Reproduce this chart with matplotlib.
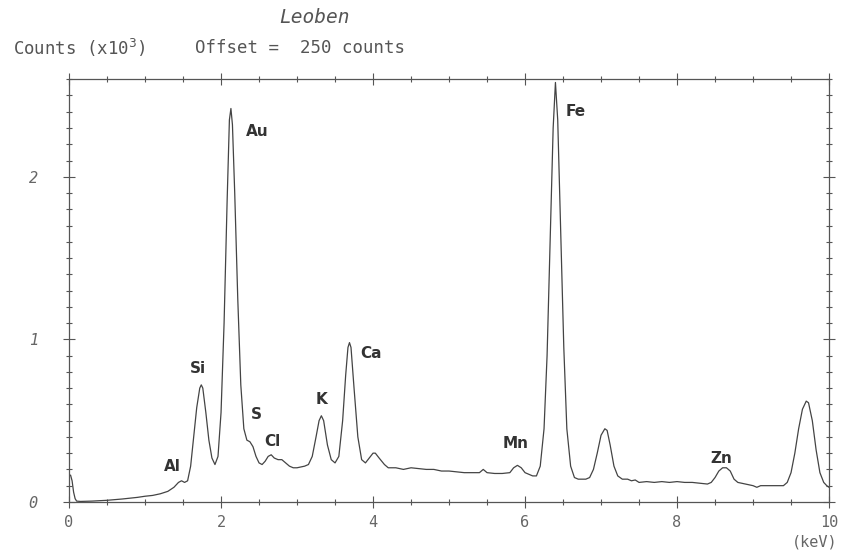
import matplotlib
matplotlib.use("Agg")
import matplotlib.pyplot as plt
from matplotlib.ticker import MultipleLocator

# spectrum: energy (keV) and counts (x10^3)
energy = [
    0.00, 0.02, 0.04, 0.06, 0.08, 0.10, 0.15, 0.30, 0.50, 0.70, 0.90, 1.00,
    1.10, 1.20, 1.30, 1.38, 1.44, 1.48, 1.52, 1.56, 1.60, 1.64, 1.68, 1.72,
    1.74, 1.76, 1.80, 1.84, 1.88, 1.92, 1.96, 2.00, 2.04, 2.08, 2.11, 2.13,
    2.15, 2.18, 2.22, 2.26, 2.30, 2.34, 2.38, 2.42, 2.46, 2.50, 2.54, 2.58,
    2.62, 2.66, 2.70, 2.75, 2.80, 2.85, 2.90, 2.95, 3.00, 3.05, 3.10, 3.15,
    3.20, 3.25, 3.29, 3.32, 3.35, 3.40, 3.45, 3.50, 3.55, 3.60, 3.64, 3.67,
    3.69, 3.71, 3.75, 3.80, 3.85, 3.90, 3.95, 4.00, 4.03, 4.08, 4.15, 4.20,
    4.30, 4.40, 4.50, 4.60, 4.70, 4.80, 4.90, 5.00, 5.10, 5.20, 5.30, 5.40,
    5.45, 5.50, 5.60, 5.70, 5.80, 5.85, 5.90, 5.95, 6.00, 6.10, 6.15, 6.20,
    6.25, 6.29, 6.33, 6.37, 6.40, 6.43, 6.47, 6.51, 6.55, 6.60, 6.65, 6.70,
    6.80, 6.85, 6.90, 6.95, 7.00, 7.05, 7.08, 7.12, 7.17, 7.22, 7.28, 7.35,
    7.40, 7.45, 7.50, 7.60, 7.70, 7.80, 7.90, 8.00, 8.10, 8.20, 8.30, 8.40,
    8.45, 8.50, 8.55, 8.60, 8.65, 8.70, 8.75, 8.80, 8.90, 9.00, 9.05, 9.10,
    9.20, 9.30, 9.40, 9.45, 9.50, 9.55, 9.60, 9.65, 9.70, 9.73, 9.78, 9.83,
    9.88, 9.93, 9.97, 10.00,
]
counts = [
    0.160, 0.165, 0.130, 0.060, 0.020, 0.005, 0.003, 0.005, 0.010, 0.018, 0.028, 0.035,
    0.040, 0.050, 0.065, 0.090, 0.120, 0.130, 0.120, 0.130, 0.220, 0.400, 0.580, 0.700,
    0.720, 0.700, 0.550, 0.380, 0.270, 0.230, 0.280, 0.550, 1.100, 1.850, 2.350, 2.420,
    2.320, 1.900, 1.250, 0.720, 0.450, 0.380, 0.370, 0.340, 0.280, 0.240, 0.230, 0.250,
    0.280, 0.290, 0.270, 0.260, 0.260, 0.240, 0.220, 0.210, 0.210, 0.215, 0.220, 0.230,
    0.280, 0.400, 0.500, 0.530, 0.500, 0.350, 0.260, 0.240, 0.280, 0.500, 0.780, 0.950,
    0.980, 0.950, 0.700, 0.400, 0.260, 0.240, 0.270, 0.300, 0.300, 0.270, 0.230, 0.210,
    0.210, 0.200, 0.210, 0.205, 0.200, 0.200, 0.190, 0.190, 0.185, 0.180, 0.180, 0.180,
    0.200, 0.180, 0.175, 0.175, 0.180, 0.210, 0.225, 0.210, 0.180, 0.160, 0.160, 0.220,
    0.450, 0.900, 1.600, 2.300, 2.580, 2.350, 1.650, 0.950, 0.450, 0.220, 0.150, 0.140,
    0.140, 0.150, 0.200, 0.300, 0.410, 0.450, 0.440, 0.350, 0.220, 0.160, 0.140, 0.140,
    0.130, 0.135, 0.120, 0.125, 0.120, 0.125, 0.120, 0.125, 0.120, 0.120, 0.115, 0.110,
    0.120, 0.150, 0.190, 0.210, 0.210, 0.190, 0.140, 0.120, 0.110, 0.100, 0.090, 0.100,
    0.100, 0.100, 0.100, 0.120, 0.180, 0.300, 0.450, 0.570, 0.620, 0.610, 0.500, 0.320,
    0.180, 0.120, 0.100, 0.090,
]

# element labels and where they sit
elements = ["Al", "Si", "Au", "S", "Cl", "K", "Ca", "Mn", "Fe", "Zn"]
label_x = [1.36, 1.70, 2.47, 2.46, 2.68, 3.32, 3.97, 5.88, 6.66, 8.58]
label_y = [0.22, 0.82, 2.28, 0.54, 0.37, 0.63, 0.91, 0.36, 2.40, 0.27]

x_ticks = [0, 2, 4, 6, 8, 10]
y_ticks = [0, 1, 2]

ink = "#555555"

fig = plt.figure(figsize=(8.42, 5.54), dpi=100)
ax = fig.add_axes([0.082, 0.094, 0.9026, 0.763])

ax.plot(energy, counts, color="#444444", linewidth=0.9)

for name, lx, ly in zip(elements, label_x, label_y):
    ax.text(lx, ly, name, ha="center", va="center", fontsize=11,
            fontweight="bold", color="#333333", family="DejaVu Sans")

ax.set_xlim(0, 10)
ax.set_ylim(0, 2.6)
ax.set_xticks(x_ticks)
ax.set_yticks(y_ticks)
ax.xaxis.set_minor_locator(MultipleLocator(0.5))
ax.yaxis.set_minor_locator(MultipleLocator(0.1))
ax.set_xticklabels([str(t) for t in x_ticks], family="DejaVu Sans Mono",
                   fontsize=11, color="#666666")
ax.set_yticklabels([str(t) for t in y_ticks], family="DejaVu Sans Mono",
                   fontsize=11, color="#666666", style="italic")

ax.tick_params(which="both", direction="inout", top=True, right=True,
               color=ink, width=0.8)
ax.tick_params(which="major", length=9, pad=5)
ax.tick_params(which="minor", length=5)
ax.tick_params(axis="y", which="major", pad=18)
for sp in ax.spines.values():
    sp.set_color(ink)
    sp.set_linewidth(0.9)

fig.text(0.374, 0.968, "Leoben", family="DejaVu Sans Mono", style="italic",
         fontsize=14, color="#555555", ha="center", va="center")
fig.text(0.015, 0.913, "Counts (x10$^3$)", family="DejaVu Sans Mono",
         fontsize=12.5, color="#555555", ha="left", va="center")
fig.text(0.232, 0.913, "Offset =  250 counts", family="DejaVu Sans Mono",
         fontsize=12.5, color="#555555", ha="left", va="center")
fig.text(0.995, 0.008, "(keV)", family="DejaVu Sans Mono",
         fontsize=11, color="#666666", ha="right", va="bottom")

fig.savefig("out.png", dpi=100)
